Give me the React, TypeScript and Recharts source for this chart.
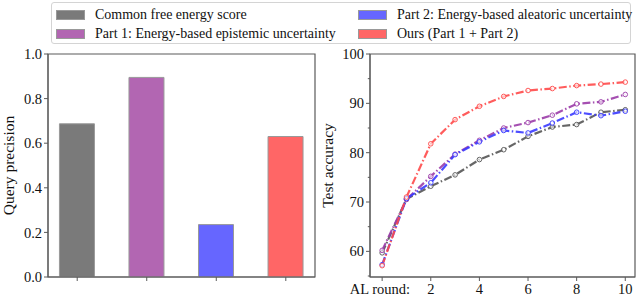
import React from 'react';
import {
  BarChart, Bar, Cell, LineChart, Line, XAxis, YAxis, ReferenceArea,
} from 'recharts';

// Left panel: query precision per method
const methods = [
  'Common free energy score',
  'Part 1: Energy-based epistemic uncertainty',
  'Part 2: Energy-based aleatoric uncertainty',
  'Ours (Part 1 + Part 2)',
];
const precision = [0.687, 0.895, 0.235, 0.63];
const barColors = ['#7a7a7a', '#b266b2', '#6666ff', '#ff6666'];
const precisionTicks = [0, 0.2, 0.4, 0.6, 0.8, 1.0];
const barDomain = [-0.42, 3.42];
const precisionDomain = [0, 1];

// Right panel: test accuracy per AL round
const rounds = [0, 1, 2, 3, 4, 5, 6, 7, 8, 9, 10];
const accCommon = [59.7, 70.6, 73.2, 75.5, 78.6, 80.6, 83.3, 85.2, 85.7, 88.2, 88.7];
const accPart1 = [60.2, 70.5, 75.2, 79.7, 82.5, 85.0, 86.1, 87.6, 89.9, 90.3, 91.8];
const accPart2 = [57.3, 70.7, 73.9, 79.6, 82.2, 84.5, 84.0, 86.0, 88.2, 87.5, 88.4];
const accOurs = [57.1, 71.0, 81.8, 86.7, 89.4, 91.4, 92.6, 93.0, 93.6, 93.9, 94.3];
const lineColors = ['#555555', '#9b3ca8', '#3a3aff', '#ff4a4a'];
const accTicks = [60, 70, 80, 90, 100];
const accMinorTicks = [55, 65, 75, 85, 95];
const roundTicks = [0, 2, 4, 6, 8, 10];
const roundDomain = [-0.5, 10.4];
const accDomain = [54.8, 100];

const FONT = '"Liberation Serif", "Times New Roman", serif';
const AXIS = '#5a5a5a';
const tickStyle = { fontSize: 14.5, fill: '#111', fontFamily: FONT };
const labelStyle = { fontSize: 15.5, fill: '#111', fontFamily: FONT, textAnchor: 'middle' };

const barRows = methods.map((m, i) => ({ idx: i, name: m, value: precision[i] }));
const lineRows = rounds.map((r, i) => ({
  round: r,
  common: accCommon[i],
  part1: accPart1[i],
  part2: accPart2[i],
  ours: accOurs[i],
}));
const seriesKeys = ['common', 'part1', 'part2', 'ours'];

function RoundTick(props: any) {
  const { x, y, payload } = props;
  if (payload.value === 0) {
    return (
      <text x={x + 28} y={y + 11} textAnchor="end" style={tickStyle}>AL round:</text>
    );
  }
  return (
    <text x={x} y={y + 11} textAnchor="middle" style={tickStyle}>{payload.value}</text>
  );
}

// y tick with its own tick mark, so minor ticks can be shorter and unlabeled
function AccTick(props: any) {
  const { x, y, payload } = props;
  const major = accTicks.includes(payload.value);
  const axisX = x + 6;
  return (
    <g>
      <line x1={axisX - (major ? 4 : 2.2)} x2={axisX} y1={y} y2={y} stroke={AXIS} strokeWidth={1} />
      {major && (
        <text x={x} y={y} dy="0.355em" textAnchor="end" style={tickStyle}>{payload.value}</text>
      )}
    </g>
  );
}

function Legend() {
  return (
    <div style={{
      position: 'absolute', left: 51, top: 2, width: 580, height: 42,
      border: '1px solid #d4d4d4', borderRadius: 3, boxSizing: 'border-box',
      fontFamily: FONT, fontSize: 14, color: '#111', background: '#fff',
    }}>
      {methods.map((m, i) => {
        const col = i < 2 ? 0 : 1;
        const row = i % 2;
        return (
          <div key={m} style={{
            position: 'absolute', left: col === 0 ? 4 : 306, top: row === 0 ? 2 : 21,
            display: 'flex', alignItems: 'center', whiteSpace: 'nowrap', height: 19,
          }}>
            <span style={{
              display: 'inline-block', width: 27, height: 8, background: barColors[i],
              border: '1px solid #999', marginRight: 10,
            }} />
            <span>{m}</span>
          </div>
        );
      })}
    </div>
  );
}

export default function App() {
  return (
    <div style={{ position: 'absolute', left: 0, top: 0, width: 640, height: 298, background: '#fff' }}>
      <div style={{ position: 'absolute', left: 0, top: 0 }}>
        <BarChart width={320} height={298} data={barRows}
          margin={{ top: 54, right: 5, bottom: 0, left: 0 }}>
          <XAxis dataKey="idx" type="number" domain={barDomain} ticks={[0, 1, 2, 3]}
            allowDataOverflow tickFormatter={() => ''} height={21}
            stroke={AXIS} tickSize={4} tickLine={{ stroke: AXIS }} />
          <YAxis domain={precisionDomain} ticks={precisionTicks} allowDataOverflow width={48}
            tickFormatter={(v: number) => v.toFixed(1)} tick={tickStyle} tickSize={4}
            stroke={AXIS} tickLine={{ stroke: AXIS }}
            label={{ value: 'Query precision', angle: -90, position: 'insideLeft', offset: 0,
              dx: 8, style: labelStyle }} />
          <Bar dataKey="value" barSize={35} stroke="#999" strokeWidth={1} isAnimationActive={false}>
            {barRows.map((r, i) => <Cell key={r.name} fill={barColors[i]} />)}
          </Bar>
          <ReferenceArea x1={barDomain[0]} x2={barDomain[1]} y1={precisionDomain[0]} y2={precisionDomain[1]}
            fill="none" fillOpacity={0} stroke={AXIS} strokeWidth={1.2} ifOverflow="visible" />
        </BarChart>
      </div>
      <div style={{ position: 'absolute', left: 320, top: 0 }}>
        <LineChart width={320} height={298} data={lineRows}
          margin={{ top: 54, right: 5, bottom: 0, left: 0 }}>
          <XAxis dataKey="round" type="number" domain={roundDomain} ticks={roundTicks}
            allowDataOverflow tick={<RoundTick />} height={21} stroke={AXIS}
            tickSize={4} tickLine={{ stroke: AXIS }} />
          <YAxis domain={accDomain} ticks={[...accMinorTicks, ...accTicks].sort((a, b) => a - b)}
            allowDataOverflow width={50} interval={0}
            tick={<AccTick />} tickSize={4} tickLine={false} stroke={AXIS}
            label={{ value: 'Test accuracy', angle: -90, position: 'insideLeft', offset: 0,
              dx: 7, style: labelStyle }} />
          <ReferenceArea x1={roundDomain[0]} x2={roundDomain[1]} y1={accDomain[0]} y2={accDomain[1]}
            fill="none" fillOpacity={0} stroke={AXIS} strokeWidth={1.2} ifOverflow="visible" />
          {seriesKeys.map((k, i) => (
            <Line key={k} dataKey={k} stroke={lineColors[i]} strokeWidth={2.2}
              strokeOpacity={0.9} strokeDasharray="8 2.5 1.5 2.5"
              dot={{ r: 2.3, stroke: lineColors[i], strokeWidth: 1, fill: '#fff', fillOpacity: 0.6, strokeDasharray: '' }}
              isAnimationActive={false} />
          ))}
        </LineChart>
      </div>
      <Legend />
    </div>
  );
}
